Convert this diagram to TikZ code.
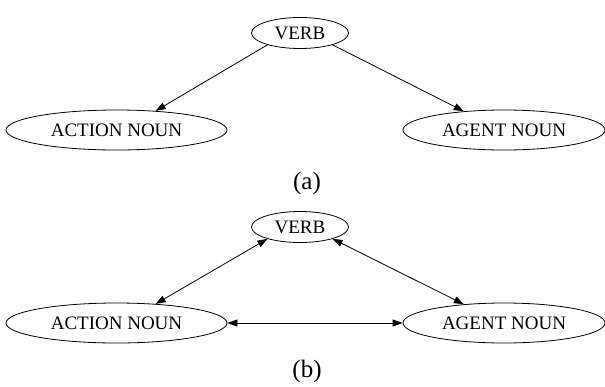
\documentclass[tikz,border=0pt]{standalone}
\usepackage{fontspec}
\setmainfont{Liberation Serif}
\usetikzlibrary{shapes,arrows.meta}

\begin{document}
\begin{tikzpicture}[x=1pt,y=-1pt]
        \tikzstyle{every node}+=[inner sep=0pt]
        \tikzstyle{word}=[draw, ellipse, line width=0.8pt, minimum height=40pt, font=\fontsize{19}{21}\selectfont]
        \tikzstyle{link}=[line width=0.8pt, >={Triangle[length=10pt,width=7pt]}]
        \tikzstyle{caption}=[font=\fontsize{25}{28}\selectfont]
        \useasboundingbox (0,0) rectangle (605,386);
        % (a)
        \node [word, minimum width=97pt, minimum height=31pt] (verbA) at (300,33) {VERB};
        \node [word, minimum width=221pt] (actionA) at (116.5,130) {ACTION NOUN};
        \node [word, minimum width=202pt] (agentA) at (504,130) {AGENT NOUN};
        \node [caption] (capA) at (307,183) {(a)};
        \draw [link, ->] (verbA.200) -- (actionA.26);
        \draw [link, ->] (verbA.340) -- (agentA.155);
        % (b)
        \node [word, minimum width=97pt, minimum height=31pt] (verbB) at (300,227) {VERB};
        \node [word, minimum width=221pt] (actionB) at (116.5,323) {ACTION NOUN};
        \node [word, minimum width=202pt] (agentB) at (504,323) {AGENT NOUN};
        \node [caption] (capB) at (307,371) {(b)};
        \draw [link, <->] (verbB.200) -- (actionB.26);
        \draw [link, <->] (verbB.340) -- (agentB.155);
        \draw [link, <->] (actionB.east) -- (agentB.west);
\end{tikzpicture}
\end{document}
